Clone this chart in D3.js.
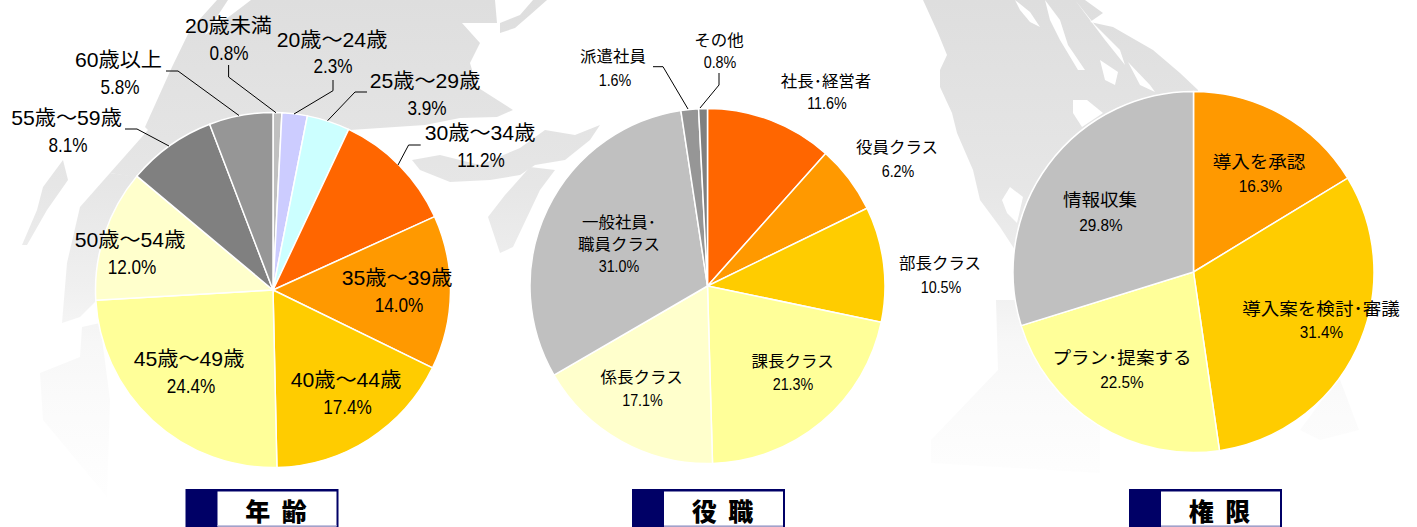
<!DOCTYPE html>
<html lang="ja">
<head>
<meta charset="utf-8">
<script src="https://cdn.jsdelivr.net/npm/d3@7/dist/d3.min.js"></script>
<style>
html,body{margin:0;padding:0;background:#fff;overflow:hidden}
svg{display:block}
text{font-family:"Liberation Sans","Noto Sans CJK JP",sans-serif;fill:#000}
</style>
</head>
<body>
<svg id="chart" width="1417" height="527"></svg>
<script>
// ---------- data ----------
const ageCategories = ["20歳未満","20歳～24歳","25歳～29歳","30歳～34歳","35歳～39歳","40歳～44歳","45歳～49歳","50歳～54歳","55歳～59歳","60歳以上"];
const ageValues = [0.8,2.3,3.9,11.2,14.0,17.4,24.4,12.0,8.1,5.8];
const ageColors = ["#c0c0c0","#ccccff","#ccffff","#ff6600","#ff9900","#ffcc00","#ffff99","#ffffcc","#808080","#969696"];

const postCategories = ["社長･経営者","役員クラス","部長クラス","課長クラス","係長クラス","一般社員･\n職員クラス","派遣社員","その他"];
const postValues = [11.6,6.2,10.5,21.3,17.1,31.0,1.6,0.8];
const postColors = ["#ff6600","#ff9900","#ffcc00","#ffff99","#ffffcc","#c0c0c0","#969696","#808080"];

const authCategories = ["導入を承認","導入案を検討･審議","プラン･提案する","情報収集"];
const authValues = [16.3,31.4,22.5,29.8];
const authColors = ["#ff9900","#ffcc00","#ffff99","#c0c0c0"];

const titles = ["年 齢","役 職","権 限"];

// ---------- layout (separate from data) ----------
const ageLabelPos = [[228.5,26,229,53],[332,40,333,66],[425,81,427,108],[480,133,481,160],[397,278,399,305],[346,380,347.5,407],[189,359,191,386.5],[130,240,132,267],[66.5,118,68,145],[118.5,60,120,87]];
const postLabelPos = [[826,81,827,103],[897,147,898,171],[940,263,941,287],[792.6,361,793,384],[641.6,377,642.5,400],[619,222,619,266],[613,56.5,615,80.5],[719,40,720,62]];
const authLabelPos = [[1259,162,1260.5,186],[1321,309,1321.5,332],[1122,358.5,1122,382],[1100,200,1101,224.6]];
const ageLeaders = [
  [[228.6,65],[228.6,77],[276,112.7]],
  [[333,80],[333,90.7],[294,114]],
  [[367,92],[355,92],[327.6,120.7]],
  [[420.7,145],[408.6,145],[398,165]],
  [[125,129],[137,129],[169,146]],
  [[166,71],[178,71],[239,115.5]]
];
const postLeaders = [
  [[653,66.7],[663,66.7],[688,109]],
  [[719,73],[719,85],[700,108]]
];
const charts = [
  {cats:ageCategories, vals:ageValues, cols:ageColors, pos:ageLabelPos, leaders:ageLeaders, cx:273, cy:290, r:177.5,
   font:20, sx:1.06, pfont:20, psx:.86, lh:22, box:185.5, title:titles[0]},
  {cats:postCategories, vals:postValues, cols:postColors, pos:postLabelPos, leaders:postLeaders, cx:707.5, cy:286, r:177.5,
   font:16, sx:1.03, pfont:16.5, psx:.87, lh:22, box:632, title:titles[1]},
  {cats:authCategories, vals:authValues, cols:authColors, pos:authLabelPos, leaders:[], cx:1193.5, cy:272, r:180.5,
   font:17.5, sx:1.06, pfont:17, psx:.9, lh:22, box:1129, title:titles[2]}
];

const svg = d3.select("#chart");

// ---------- background map ----------
const defs = svg.append("defs");
const g = defs.append("linearGradient").attr("id","fade").attr("gradientUnits","userSpaceOnUse")
  .attr("x1",0).attr("x2",0).attr("y1",0).attr("y2",527);
[[0,"#dedede"],[.35,"#e6e6e6"],[.55,"#f0f0f0"],[.65,"#f7f7f7"],[.75,"#fafafa"],[.88,"#fdfdfd"],[1,"#ffffff"]]
  .forEach(s=>g.append("stop").attr("offset",s[0]).attr("stop-color",s[1]));
const mapShapes = [
  [[217,0],[228,0],[205,35],[251,0],[495,0],[497,23],[462,23],[480,43],[470,63],[477,87],[513,110],[497,117],[460,118],[425,125],[350,130],[273,200],[110,173],[148,130],[145,127],[172,67],[190,30]],
  [[110,173],[80,207],[67,263],[62,323],[80,317],[97,300],[130,250],[160,180]],
  [[40,373],[80,357],[82,327],[100,323],[110,400],[107,497],[43,420]],
  [[63,160],[68,180],[47,210],[27,245],[22,245],[37,210],[43,187]],
  [[412,160],[440,155],[480,165],[520,148],[545,130],[575,135],[600,125],[590,140],[565,160],[535,165],[520,175],[490,180],[450,182],[420,170]],
  [[530,167],[555,170],[540,190],[513,247],[500,253],[488,217],[505,195]],
  [[500,33],[500,23],[520,15],[533,0],[547,0],[530,15],[515,28]],
  [[923,0],[1085,0],[1103,13],[1090,22],[1113,27],[1153,50],[1180,73],[1198,90],[1190,200],[1015,250],[1000,227],[980,200],[973,170],[957,133],[952,113],[940,87],[940,70],[947,55],[938,33]],
  [[996,300],[1020,300],[1100,300],[1100,473],[931,463],[931,440],[998,370]],
  [[1339,377],[1359,430],[1320,440],[1300,430]]
];
svg.append("g").selectAll("path").data(mapShapes).join("path")
  .attr("d",d=>d3.line()(d)+"Z").attr("fill","url(#fade)");
// white streaks and holes in the map
svg.append("g").selectAll("path").data([
  [[1015,0],[1030,12],[1040,27],[1030,22],[1020,10]],
  [[1045,0],[1060,20],[1068,45],[1085,70],[1078,70],[1060,40],[1050,20]],
  [[1075,0],[1095,25],[1120,50],[1125,65],[1105,40]],
  [[1100,60],[1118,72],[1115,85],[1105,80]],
  [[1128,62],[1150,85],[1155,92],[1140,85]],
  [[1073,100],[1087,100],[1103,113],[1082,127],[1073,113]],
  [[1002,200],[1010,187],[1023,197],[1017,223],[1007,213]]
]).join("path").attr("d",d=>d3.line()(d)+"Z").attr("fill","#fff");

// ---------- charts ----------
const pie = d3.pie().sort(null).value(d=>d);
const fmt = d3.format(".1f");
charts.forEach(c=>{
  const arc = d3.arc().innerRadius(0).outerRadius(c.r);
  const G = svg.append("g");
  G.append("g").attr("transform",`translate(${c.cx},${c.cy})`)
    .selectAll("path").data(pie(c.vals)).join("path")
    .attr("d",arc).attr("fill",(d,i)=>c.cols[i]).attr("stroke","#fff").attr("stroke-width",1.5);
  G.append("g").selectAll("path").data(c.leaders).join("path")
    .attr("d",d=>d3.line()(d)).attr("fill","none").attr("stroke","#000").attr("stroke-width",1);
  c.cats.forEach((name,i)=>{
    const p = c.pos[i];
    name.split("\n").forEach((ln,k)=>{
      G.append("text").attr("transform",`translate(${p[0]},${p[1]+k*c.lh}) scale(${c.sx},1)`)
        .attr("text-anchor","middle").attr("dominant-baseline","central")
        .attr("font-size",c.font).text(ln);
    });
    G.append("text").attr("transform",`translate(${p[2]},${p[3]}) scale(${c.psx},1)`)
      .attr("text-anchor","middle").attr("dominant-baseline","central")
      .attr("font-size",c.pfont).text(fmt(c.vals[i])+"%");
  });
  // title box
  const B = svg.append("g").attr("transform",`translate(${c.box},489)`);
  B.append("rect").attr("width",153).attr("height",38).attr("fill","#000066");
  B.append("rect").attr("x",32).attr("y",2.5).attr("width",119).attr("height",35).attr("fill","#fff");
  B.append("rect").attr("x",32).attr("y",36).attr("width",119).attr("height",1.5).attr("fill","#c4c4e0");
  B.append("text").attr("x",92).attr("y",20.5).attr("text-anchor","middle").attr("dominant-baseline","central")
    .attr("font-size",25).attr("font-weight",900).style("letter-spacing","3px").style("white-space","pre")
    .style("font-family",'"Noto Sans CJK JP",sans-serif').text(c.title);
});
</script>
</body>
</html>
